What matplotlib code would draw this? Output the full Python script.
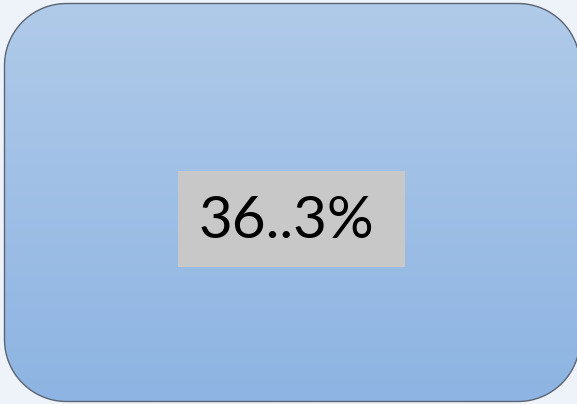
import numpy as np
import matplotlib
matplotlib.use("Agg")
import matplotlib.pyplot as plt
from matplotlib.patches import Polygon, Rectangle

label_text = "36..3%"

W, H = 577, 404
fig = plt.figure(figsize=(W / 100, H / 100), dpi=100)
fig.patch.set_facecolor("#eef3fa")
ax = fig.add_axes([0, 0, 1, 1])
ax.set_xlim(0, W)
ax.set_ylim(H, 0)
ax.axis("off")


def rounded_rect(x0, y0, x1, y1, r, n=40):
    pts = []
    corners = [(x1 - r, y0 + r, -90, 0), (x1 - r, y1 - r, 0, 90),
               (x0 + r, y1 - r, 90, 180), (x0 + r, y0 + r, 180, 270)]
    for cx, cy, a0, a1 in corners:
        a = np.radians(np.linspace(a0, a1, n))
        pts.extend(zip(cx + r * np.cos(a), cy + r * np.sin(a)))
    return np.array(pts)


x0, y0, x1, y1, r = 4.5, 3.5, 580, 401.5, 62
verts = rounded_rect(x0, y0, x1, y1, r)

top = np.array([176, 202, 233]) / 255
bot = np.array([141, 180, 226]) / 255
t = np.linspace(0, 1, 256)[:, None]
grad = (top[None, :] * (1 - t) + bot[None, :] * t)[:, None, :]
im = ax.imshow(grad, extent=(x0, x1, y1, y0), aspect="auto", zorder=2,
               interpolation="bilinear")
clip = Polygon(verts, closed=True, facecolor="none", edgecolor="none",
               transform=ax.transData)
im.set_clip_path(clip)

border = Polygon(verts, closed=True, facecolor="none", edgecolor="#5b6472",
                 linewidth=1.0, zorder=3, clip_on=False)
ax.add_patch(border)

# label box
ax.add_patch(Rectangle((178, 171), 227, 96, facecolor="#c8c8c8",
                       edgecolor="none", zorder=4))
ax.text(199, 221, label_text, fontsize=42, family="Lato",
        color="black", ha="left", va="center", zorder=5)

fig.savefig("out.png", dpi=100, facecolor=fig.get_facecolor())
